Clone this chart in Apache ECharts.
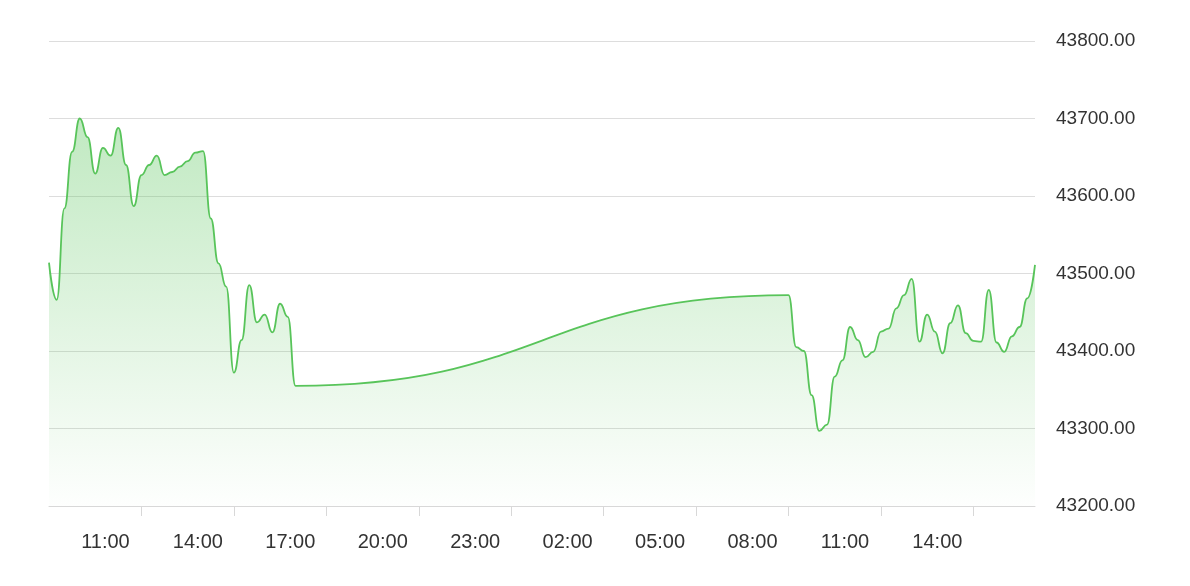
<!DOCTYPE html>
<html>
<head>
<meta charset="utf-8">
<script src="https://cdn.jsdelivr.net/npm/echarts@6/dist/echarts.min.js"></script>
<style>
html,body{margin:0;padding:0;background:#fff;}
#chart{width:1190px;height:586px;}
</style>
</head>
<body>
<div id="chart"></div>
<script>
// Session 1: 08:00-16:00 (day 1), 15-minute bars
const day1Values = [43514, 43466, 43584, 43657, 43700, 43676, 43629, 43662, 43652, 43688, 43640, 43587, 43627, 43640, 43652, 43627,
  43631, 43638, 43645, 43656, 43658, 43571, 43513, 43483, 43372, 43414, 43485, 43437, 43447, 43424, 43461, 43444, 43355];
// Session 2: 08:00-16:00 (day 2), 15-minute bars
const day2Values = [43472, 43405, 43400, 43343, 43297, 43305, 43367, 43388, 43431, 43414, 43392, 43399, 43425, 43429, 43455, 43472,
  43493, 43412, 43447, 43425, 43397, 43436, 43459, 43423, 43413, 43412, 43479, 43411, 43399, 43419, 43431, 43468, 43511];
const sessionStartHours = [8, 32];   // hours from day-1 midnight
const stepHours = 0.25;              // 15 minutes
const xTickHours = [11, 14, 17, 20, 23, 26, 29, 32, 35, 38];
const yTicks = [43200, 43300, 43400, 43500, 43600, 43700, 43800];

const seriesData = [];
[day1Values, day2Values].forEach(function (vals, s) {
  vals.forEach(function (v, i) {
    seriesData.push([sessionStartHours[s] + i * stepHours, v]);
  });
});

function hh(h) {
  const hr = Math.round(h) % 24;
  return (hr < 10 ? '0' : '') + hr + ':00';
}

const chart = echarts.init(document.getElementById('chart'), null, {renderer: 'canvas'});
chart.setOption({
  animation: false,
  backgroundColor: '#ffffff',
  grid: {left: 49, right: 155, top: 41, bottom: 80, containLabel: false},
  xAxis: {
    type: 'value',
    min: 8,
    max: 40,
    interval: 3,
    axisLine: {show: true, lineStyle: {color: '#d8d8d8', width: 1}},
    axisTick: {show: true, length: 10, lineStyle: {color: '#d8d8d8'}, customValues: xTickHours},
    splitLine: {show: false},
    axisLabel: {
      customValues: xTickHours,
      formatter: function (v) { return hh(v); },
      color: '#333333',
      fontSize: 20,
      fontFamily: 'Liberation Sans, Arial, sans-serif',
      margin: 26,
      padding: [0, 72, 0, 0]
    }
  },
  yAxis: {
    type: 'value',
    position: 'right',
    min: yTicks[0],
    max: yTicks[yTicks.length - 1],
    interval: 100,
    axisLine: {show: false},
    axisTick: {show: false},
    splitLine: {show: true, lineStyle: {color: '#dddddd', width: 1}},
    axisLabel: {
      formatter: function (v) { return v.toFixed(2); },
      color: '#333333',
      fontSize: 19,
      fontFamily: 'Liberation Sans, Arial, sans-serif',
      margin: 21,
      padding: [3, 0, 0, 0]
    }
  },
  series: [{
    type: 'line',
    data: seriesData,
    smooth: true,
    smoothMonotone: 'x',
    showSymbol: false,
    lineStyle: {color: '#58c45a', width: 1.8},
    areaStyle: {
      color: new echarts.graphic.LinearGradient(0, 0, 0, 1, [
        {offset: 0, color: 'rgba(92,198,94,0.55)'},
        {offset: 0.55, color: 'rgba(92,198,94,0.25)'},
        {offset: 1, color: 'rgba(92,198,94,0.01)'}
      ])
    }
  }]
});
</script>
</body>
</html>
